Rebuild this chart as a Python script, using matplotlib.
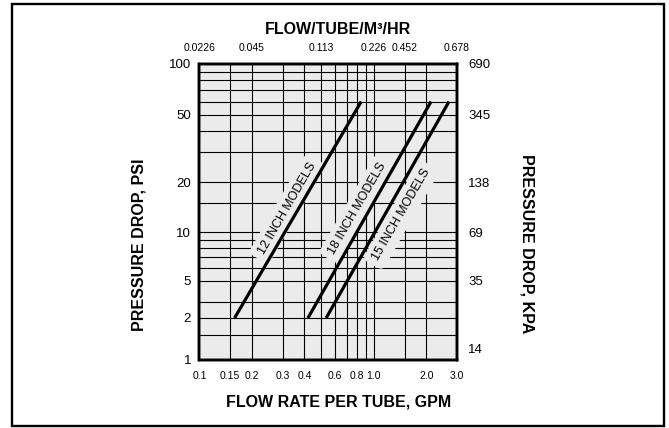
import numpy as np
import matplotlib.pyplot as plt
from matplotlib.patches import Rectangle
from matplotlib.ticker import NullLocator

plt.rcParams['font.family'] = ['Liberation Sans', 'DejaVu Sans']

# curve end points: flow rate per tube (GPM) vs pressure drop (PSI)
gpm_12 = [0.159, 0.847]
gpm_18 = [0.419, 2.13]
gpm_15 = [0.533, 2.70]
psi_ends = [2, 60]

bottom_ticks = [0.1, 0.15, 0.2, 0.3, 0.4, 0.6, 0.8, 1.0, 2.0, 3.0]
bottom_labels = ['0.1', '0.15', '0.2', '0.3', '0.4', '0.6', '0.8', '1.0', '2.0', '3.0']
top_ticks = [0.1, 0.2, 0.5, 1.0, 1.5, 3.0]
top_labels = ['0.0226', '0.045', '0.113', '0.226', '0.452', '0.678']
psi_ticks = [1, 2, 5, 10, 20, 50, 100]
kpa_ticks = [1.2, 5, 10, 20, 50, 100]   # where the kPa labels sit, in psi
kpa_labels = ['14', '35', '69', '138', '345', '690']
x_grid = [0.15, 0.2, 0.3, 0.4, 0.5, 0.6, 0.7, 0.8, 0.9, 1.0, 1.5, 2.0]
y_grid = [1.5, 2, 3, 5, 6, 7, 8, 9, 10, 15, 20, 30, 40, 50, 60, 70, 80, 90]

# the printed psi axis is not a true log scale, so map the labelled values
# to their heights (fraction of the axis) and interpolate in log between them
psi_anchor = [0.01, 1, 2, 5, 10, 20, 50, 100, 10000]
psi_pos = [-0.30, 0.0, 0.142, 0.267, 0.432, 0.601, 0.828, 1.0, 1.5]
log_anchor = np.log10(psi_anchor)


def fwd(v):
    v = np.clip(np.asarray(v, dtype=float), 1e-6, None)
    return np.interp(np.log10(v), log_anchor, psi_pos)


def inv(f):
    return 10 ** np.interp(np.asarray(f, dtype=float), psi_pos, log_anchor)


bg = '#ebebeb'
fig = plt.figure(figsize=(6.69, 4.28), dpi=100)
ax = fig.add_axes([199.5 / 669, 1 - 360 / 428, (457 - 199.5) / 669, (360 - 64) / 428])
ax.set_facecolor(bg)
ax.set_xscale('log')
ax.set_yscale('function', functions=(fwd, inv))
ax.set_xlim(0.1, 3.0)
ax.set_ylim(1, 100)

for x in x_grid:
    ax.axvline(x, color='black', lw=0.8, zorder=1)
for y in y_grid:
    ax.axhline(y, color='black', lw=0.8, zorder=1)

for g in [gpm_12, gpm_18, gpm_15]:
    ax.plot(g, psi_ends, color='black', lw=2.3, solid_capstyle='butt', zorder=4)

box = dict(boxstyle='round,pad=0.45', fc=bg, ec='none')
ax.text(0.318, 13.8, '12 INCH MODELS', rotation=60, ha='center', va='center',
        rotation_mode='anchor', fontsize=9, bbox=box, zorder=3)
ax.text(0.803, 13.8, '18 INCH MODELS', rotation=60, ha='center', va='center',
        rotation_mode='anchor', fontsize=9, bbox=box, zorder=3)
ax.text(1.437, 12.7, '15 INCH MODELS', rotation=60, ha='center', va='center',
        rotation_mode='anchor', fontsize=9, bbox=box, zorder=3)

ax.xaxis.set_minor_locator(NullLocator())
ax.yaxis.set_minor_locator(NullLocator())
ax.set_xticks(bottom_ticks, bottom_labels)
ax.set_yticks(psi_ticks, [str(v) for v in psi_ticks])
ax.tick_params(axis='x', length=0, pad=8, labelsize=7.5)
ax.tick_params(axis='y', length=0, pad=6, labelsize=9.5)
for s in ax.spines.values():
    s.set_linewidth(1.7)
    s.set_zorder(5)

# top axis: cubic metres per hour
axt = ax.twiny()
axt.set_xscale('log')
axt.set_xlim(0.1, 3.0)
axt.xaxis.set_minor_locator(NullLocator())
axt.set_xticks(top_ticks, top_labels)
axt.tick_params(axis='x', length=0, pad=8, labelsize=7.5)

# right axis: kPa
axr = ax.twinx()
axr.set_yscale('function', functions=(fwd, inv))
axr.set_ylim(1, 100)
axr.yaxis.set_minor_locator(NullLocator())
axr.set_yticks(kpa_ticks, kpa_labels)
axr.tick_params(axis='y', length=0, pad=8, labelsize=9.5)
for a in [axt, axr]:
    for s in a.spines.values():
        s.set_linewidth(1.7)

fig.text(338.5 / 669, 1 - 30 / 428, 'FLOW/TUBE/M³/HR', ha='center', va='center',
         fontsize=11.5, fontweight='bold')
fig.text(338.5 / 669, 1 - 402 / 428, 'FLOW RATE PER TUBE, GPM', ha='center', va='center',
         fontsize=11.5, fontweight='bold')
fig.text(139 / 669, 1 - 245 / 428, 'PRESSURE DROP, PSI', ha='center', va='center',
         rotation=90, fontsize=11.5, fontweight='bold')
fig.text(526.5 / 669, 1 - 244 / 428, 'PRESSURE DROP, KPA', ha='center', va='center',
         rotation=-90, fontsize=11.5, fontweight='bold')

# outer frame
fig.patches.append(Rectangle((12 / 669, 1 - 425.5 / 428), (664 - 12) / 669, (425.5 - 3.7) / 428,
                             transform=fig.transFigure, fill=False, ec='black', lw=1.7))

fig.savefig('out.png', dpi=100)
